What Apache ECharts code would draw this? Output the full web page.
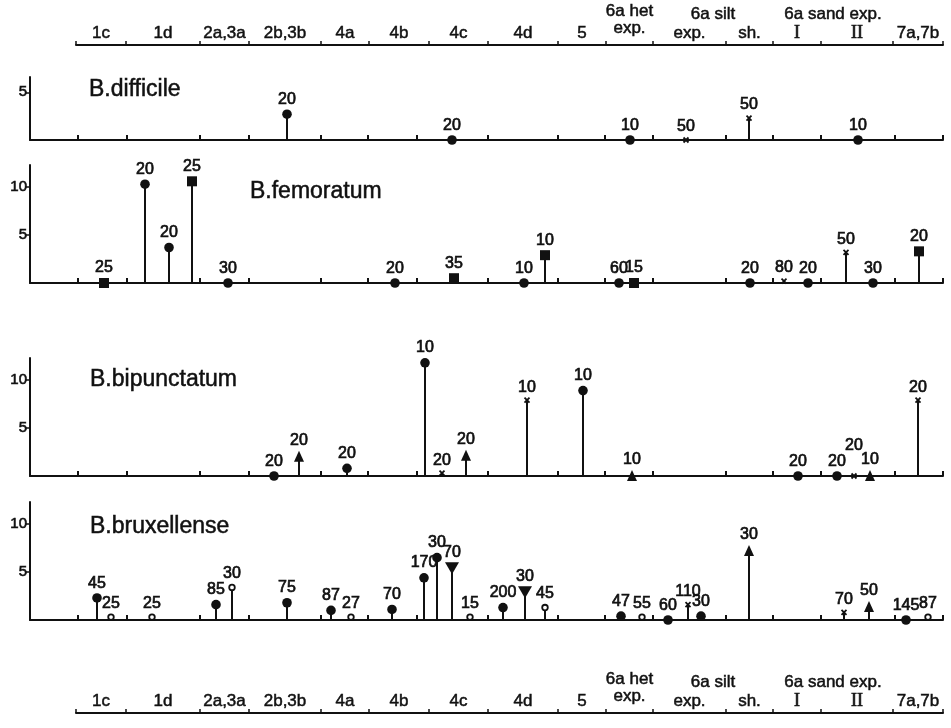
<!DOCTYPE html>
<html>
<head>
<meta charset="utf-8">
<title>Bathichnus distribution</title>
<script src="https://cdn.jsdelivr.net/npm/echarts@6/dist/echarts.min.js"></script>
<style>
  html, body { margin: 0; padding: 0; background: #fff; }
  #chart { width: 951px; height: 728px; }
</style>
</head>
<body>
<div id="chart"></div>
<script>
// position along the section (same units on every panel)
const zoneEdges = [46, 96, 170, 219, 291, 339, 399, 458, 528, 576, 623, 696, 743, 791, 863, 913]
const panelEdges = [48, 97, 170, 219, 291, 338, 387, 458, 528, 575, 623, 696, 743, 791, 865, 913]
const zoneNames = ['1c', '1d', '2a,3a', '2b,3b', '4a', '4b', '4c', '4d', '5', '6a het\nexp.', 'exp.', 'sh.', 'I', 'II', '7a,7b']
const groupNames = ['6a silt', '6a sand exp.']
const groupZones = [[10, 11], [12, 13]]
const yTicksSmall = [5]
const yTicks = [5, 10]

const difficileX = [257, 422, 600, 656, 719, 828]
const difficileY = [2.7, 0, 0, 0, 2.3, 0]
const difficileMark = ['dot', 'dot', 'dot', 'cross', 'cross', 'dot']
const difficileN = ['20', '20', '10', '50', '50', '10']

const femoratumX = [74, 115, 139, 162, 198, 365, 424, 494, 515, 589, 604, 720, 754, 778, 816, 843, 889]
const femoratumY = [0, 10.3, 3.7, 10.6, 0, 0, 0.5, 0, 2.9, 0, 0, 0, 0.2, 0, 3.2, 0, 3.3]
const femoratumMark = ['square', 'dot', 'dot', 'square', 'dot', 'dot', 'square', 'dot', 'square', 'dot', 'square', 'dot', 'cross', 'dot', 'cross', 'dot', 'square']
const femoratumN = ['25', '20', '20', '25', '30', '20', '35', '10', '10', '60', '15', '20', '80', '20', '50', '30', '20']

const bipunctatumX = [244, 269, 317, 395, 412, 436, 497, 553, 602, 768, 807, 824, 840, 888]
const bipunctatumY = [0, 2.0, 0.8, 11.8, 0.3, 2.1, 7.9, 8.9, 0, 0, 0, 0, 0, 7.9]
const bipunctatumMark = ['dot', 'up', 'dot', 'dot', 'cross', 'up', 'cross', 'dot', 'up', 'dot', 'dot', 'cross', 'up', 'cross']
const bipunctatumN = ['20', '20', '20', '10', '20', '20', '10', '10', '10', '20', '20', '20', '10', '20']

const bruxellenseX = [67, 81, 122, 186, 202, 257, 301, 321, 362, 394, 407, 422, 440, 473, 495, 515, 591, 612, 638, 658, 671, 719, 814, 839, 876, 898]
const bruxellenseY = [2.3, 0.3, 0.3, 1.6, 3.4, 1.8, 1.0, 0.3, 1.1, 4.4, 6.5, 5.4, 0.3, 1.3, 2.9, 1.3, 0.4, 0.3, 0, 1.6, 0.4, 7.2, 0.8, 1.35, 0, 0.3]
const bruxellenseMark = ['dot', 'open', 'open', 'dot', 'open', 'dot', 'dot', 'open', 'dot', 'dot', 'dot', 'down', 'open', 'dot', 'down', 'open', 'dot', 'open', 'dot', 'cross', 'dot', 'up', 'cross', 'up', 'dot', 'open']
const bruxellenseN = ['45', '25', '25', '85', '30', '75', '87', '27', '70', '170', '30', '70', '15', '200', '30', '45', '47', '55', '60', '110', '30', '30', '70', '50', '145', '87']

const INK = '#111'
const FONT = '"Liberation Sans", Arial, Helvetica, sans-serif'
const SERIF = '"Liberation Serif", "Times New Roman", serif'

const panels = [
  { name: 'B.difficile', x: difficileX, y: difficileY, mark: difficileMark, n: difficileN,
    top: 77, height: 63, max: 6.6, ticks: yTicksSmall, title: [89, 90] },
  { name: 'B.femoratum', x: femoratumX, y: femoratumY, mark: femoratumMark, n: femoratumN,
    top: 165, height: 118, max: 12.3, ticks: yTicks, title: [250, 192] },
  { name: 'B.bipunctatum', x: bipunctatumX, y: bipunctatumY, mark: bipunctatumMark, n: bipunctatumN,
    top: 358, height: 118, max: 12.3, ticks: yTicks, title: [90, 380], lifted: { 11: 17 } },
  { name: 'B.bruxellense', x: bruxellenseX, y: bruxellenseY, mark: bruxellenseMark, n: bruxellenseN,
    top: 502, height: 118, max: 12.3, ticks: yTicks, title: [90, 527] }
]

function numText (text, x, y) {
  return {
    type: 'text',
    x: x,
    y: y,
    style: {
      text: text, fill: INK, font: '16px ' + FONT,
      align: 'center', verticalAlign: 'bottom',
      textAlign: 'center', textVerticalAlign: 'bottom',
      stroke: INK, lineWidth: 0.7
    }
  }
}

function marker (kind, cx, cy) {
  const fill = { fill: INK }
  switch (kind) {
    case 'square':
      return { half: 5, el: { type: 'rect', shape: { x: cx - 5, y: cy - 5, width: 10, height: 10 }, style: fill } }
    case 'cross':
      return { half: 3, el: { type: 'group', children: [
        { type: 'line', shape: { x1: cx - 2.5, y1: cy - 2.5, x2: cx + 2.5, y2: cy + 2.5 }, style: { stroke: INK, lineWidth: 1.8 } },
        { type: 'line', shape: { x1: cx + 2.5, y1: cy - 2.5, x2: cx - 2.5, y2: cy + 2.5 }, style: { stroke: INK, lineWidth: 1.8 } }
      ] } }
    case 'up':
      return { half: 6, el: { type: 'polygon', shape: { points: [[cx, cy - 6], [cx - 5, cy + 5], [cx + 5, cy + 5]] }, style: fill } }
    case 'down':
      return { half: 6, el: { type: 'polygon', shape: { points: [[cx - 7, cy - 6], [cx + 7, cy - 6], [cx, cy + 6]] }, style: fill } }
    case 'open':
      return { half: 3.5, el: { type: 'circle', shape: { cx: cx, cy: cy, r: 2.8 }, style: { fill: '#fff', stroke: INK, lineWidth: 1.8 } } }
    default:
      return { half: 4.8, el: { type: 'circle', shape: { cx: cx, cy: cy, r: 4.8 }, style: fill } }
  }
}

function panelRenderer (p) {
  return function (params, api) {
    const i = params.dataIndex
    const base = api.coord([p.x[i], 0])
    const pt = api.coord([p.x[i], p.y[i]])
    const children = []
    if (base[1] - pt[1] > 1) {
      children.push({ type: 'line', shape: { x1: pt[0], y1: base[1], x2: pt[0], y2: pt[1] }, style: { stroke: INK, lineWidth: 2 } })
    }
    const m = marker(p.mark[i], pt[0], pt[1])
    children.push(m.el)
    const lift = (p.lifted && p.lifted[i]) || 0
    children.push(numText(p.n[i], pt[0], pt[1] - m.half - 2 - lift))
    return { type: 'group', children: children }
  }
}

function zoneRenderer (params, api) {
  const i = params.dataIndex
  const mid = (zoneEdges[i] + zoneEdges[i + 1]) / 2
  const pt = api.coord([mid, 0])
  const name = zoneNames[i]
  const serif = name === 'I' || name === 'II'
  const twoLine = name.indexOf('\n') >= 0
  return {
    type: 'text',
    x: pt[0],
    y: pt[1] - (twoLine ? 8 : 3),
    style: {
      text: name, fill: INK,
      font: serif ? '18px ' + SERIF : '17px ' + FONT,
      lineHeight: 17,
      align: 'center', verticalAlign: 'bottom',
      textAlign: 'center', textVerticalAlign: 'bottom',
      stroke: INK, lineWidth: serif ? 0.7 : 0.5
    }
  }
}

function groupRenderer (params, api) {
  const g = groupZones[params.dataIndex]
  const mid = (zoneEdges[g[0]] + zoneEdges[g[1] + 1]) / 2
  const pt = api.coord([mid, 0])
  return {
    type: 'text',
    x: pt[0],
    y: pt[1] - 22,
    style: {
      text: groupNames[params.dataIndex], fill: INK, font: '17px ' + FONT,
      align: 'center', verticalAlign: 'bottom',
      textAlign: 'center', textVerticalAlign: 'bottom',
      stroke: INK, lineWidth: 0.5
    }
  }
}

const grid = []
const xAxis = []
const yAxis = []
const series = []
const graphic = []

panels.forEach(function (p, k) {
  grid.push({ left: 30, right: 8, top: p.top, height: p.height })
  xAxis.push({
    gridIndex: k, type: 'value', min: 0, max: 913,
    axisLine: { lineStyle: { color: INK, width: 2 } },
    axisTick: { show: true, inside: true, length: 5, customValues: panelEdges, lineStyle: { color: INK, width: 2 } },
    axisLabel: { show: false },
    splitLine: { show: false }
  })
  yAxis.push({
    gridIndex: k, type: 'value', min: 0, max: p.max,
    axisLine: { show: true, lineStyle: { color: INK, width: 2 } },
    axisTick: { show: true, length: 5, customValues: p.ticks, lineStyle: { color: INK, width: 1.5 } },
    axisLabel: { customValues: p.ticks, margin: 3, color: INK, fontFamily: FONT, fontSize: 15, textBorderColor: INK, textBorderWidth: 0.6 },
    splitLine: { show: false }
  })
  series.push({
    type: 'custom',
    xAxisIndex: k,
    yAxisIndex: k,
    clip: false,
    renderItem: panelRenderer(p),
    data: p.x.map(function (x, i) { return [x, p.y[i]] })
  })
  graphic.push({
    type: 'text', x: p.title[0], y: p.title[1],
    style: { text: p.name, fill: INK, font: '23px ' + FONT, verticalAlign: 'middle', textVerticalAlign: 'middle', stroke: INK, lineWidth: 0.5 }
  })
})

// zone axes above and below the panels
const zoneAxisTops = [[0, 45], [665, 48]]
zoneAxisTops.forEach(function (z) {
  const k = grid.length
  grid.push({ left: 76, right: 8, top: z[0], height: z[1] })
  xAxis.push({
    gridIndex: k, type: 'value', min: 46, max: 913,
    axisLine: { lineStyle: { color: INK, width: 2 } },
    axisTick: { show: true, inside: true, length: 4, customValues: zoneEdges, lineStyle: { color: INK, width: 1.5 } },
    axisLabel: { show: false },
    splitLine: { show: false }
  })
  yAxis.push({ gridIndex: k, type: 'value', min: 0, max: 1, show: false })
  series.push({
    type: 'custom', xAxisIndex: k, yAxisIndex: k, clip: false,
    renderItem: zoneRenderer,
    data: zoneNames.map(function (n, i) { return [(zoneEdges[i] + zoneEdges[i + 1]) / 2, 0] })
  })
  series.push({
    type: 'custom', xAxisIndex: k, yAxisIndex: k, clip: false,
    renderItem: groupRenderer,
    data: groupZones.map(function (g) { return [(zoneEdges[g[0]] + zoneEdges[g[1] + 1]) / 2, 0] })
  })
})

const chart = echarts.init(document.getElementById('chart'), null, { renderer: 'canvas' })
chart.setOption({
  animation: false,
  backgroundColor: '#fff',
  grid: grid,
  xAxis: xAxis,
  yAxis: yAxis,
  series: series,
  graphic: graphic
})
</script>
</body>
</html>
